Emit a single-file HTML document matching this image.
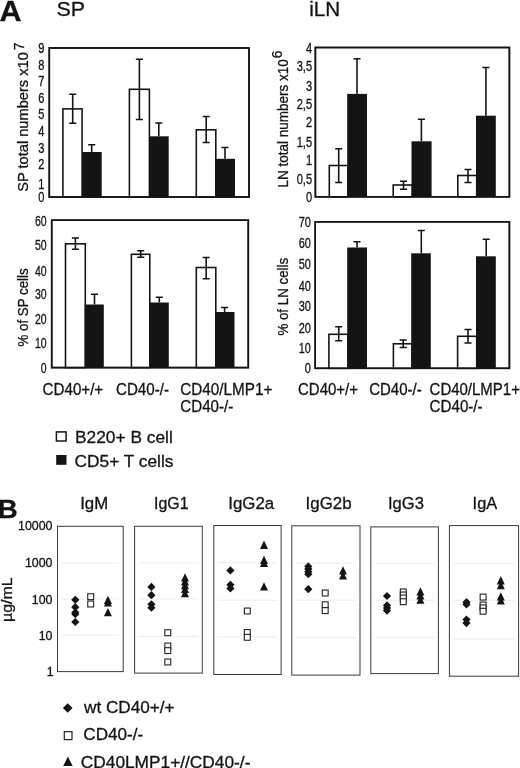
<!DOCTYPE html>
<html lang="en">
<head>
<meta charset="utf-8">
<title>Figure: SP and iLN cell numbers, immunoglobulin levels</title>
<style>
html,body{margin:0;padding:0;background:#fff;}
body{width:520px;height:768px;overflow:hidden;}
svg{display:block;will-change:transform;font-family:"Liberation Sans",Arial,Helvetica,sans-serif;}
text{stroke:#141414;stroke-width:0.3px;}
</style>
</head>
<body>
<svg width="520" height="768" viewBox="0 0 520 768">
<rect x="0" y="0" width="520" height="768" fill="#ffffff"/>
<text x="-0.4" y="20.8" font-size="29.6" text-anchor="start" fill="#141414" font-weight="bold" textLength="22" lengthAdjust="spacingAndGlyphs" >A</text>
<text x="56.4" y="15.7" font-size="21" text-anchor="start" fill="#141414" textLength="28.6" lengthAdjust="spacingAndGlyphs" >SP</text>
<text x="309.2" y="15.7" font-size="21" text-anchor="start" fill="#141414" textLength="31" lengthAdjust="spacingAndGlyphs" >iLN</text>
<text x="-2.2" y="517.6" font-size="26.6" text-anchor="start" fill="#141414" font-weight="bold" textLength="20" lengthAdjust="spacingAndGlyphs" >B</text>
<rect x="49.3" y="48" width="199.7" height="149" fill="none" stroke="#141414" stroke-width="1.58"/>
<rect x="62.9" y="108.9" width="19.199999999999996" height="88.1" fill="#fff" stroke="#141414" stroke-width="1.58"/>
<path d="M72.7 94.3V123.2M69.15 94.3H76.25M69.15 123.2H76.25" stroke="#141414" stroke-width="1.6" fill="none"/>
<rect x="82.1" y="152" width="19.60000000000001" height="45" fill="#141414"/>
<path d="M91.7 144.7V152M88.15 144.7H95.25" stroke="#141414" stroke-width="1.6" fill="none"/>
<rect x="129.4" y="89.3" width="20.0" height="107.7" fill="#fff" stroke="#141414" stroke-width="1.58"/>
<path d="M139.4 59.3V119.5M135.85 59.3H142.95000000000002M135.85 119.5H142.95000000000002" stroke="#141414" stroke-width="1.6" fill="none"/>
<rect x="149.4" y="136.3" width="19.299999999999983" height="60.69999999999999" fill="#141414"/>
<path d="M158.8 123V136.3M155.25 123H162.35000000000002" stroke="#141414" stroke-width="1.6" fill="none"/>
<rect x="196.3" y="129.8" width="19.5" height="67.19999999999999" fill="#fff" stroke="#141414" stroke-width="1.58"/>
<path d="M206.2 116.5V142.5M202.64999999999998 116.5H209.75M202.64999999999998 142.5H209.75" stroke="#141414" stroke-width="1.6" fill="none"/>
<rect x="215.8" y="158.8" width="19.19999999999999" height="38.19999999999999" fill="#141414"/>
<path d="M225 147.5V158.8M221.45 147.5H228.55" stroke="#141414" stroke-width="1.6" fill="none"/>
<rect x="49.3" y="48" width="199.7" height="149" fill="none" stroke="#141414" stroke-width="1.58"/>
<text x="44.4" y="53.26" font-size="14.4" text-anchor="end" fill="#141414" textLength="6.16" lengthAdjust="spacingAndGlyphs" >9</text>
<text x="44.4" y="70.01" font-size="14.4" text-anchor="end" fill="#141414" textLength="6.16" lengthAdjust="spacingAndGlyphs" >8</text>
<text x="44.4" y="86.46" font-size="14.4" text-anchor="end" fill="#141414" textLength="6.16" lengthAdjust="spacingAndGlyphs" >7</text>
<text x="44.4" y="103.01" font-size="14.4" text-anchor="end" fill="#141414" textLength="6.16" lengthAdjust="spacingAndGlyphs" >6</text>
<text x="44.4" y="119.46" font-size="14.4" text-anchor="end" fill="#141414" textLength="6.16" lengthAdjust="spacingAndGlyphs" >5</text>
<text x="44.4" y="136.26" font-size="14.4" text-anchor="end" fill="#141414" textLength="6.16" lengthAdjust="spacingAndGlyphs" >4</text>
<text x="44.4" y="153.01" font-size="14.4" text-anchor="end" fill="#141414" textLength="6.16" lengthAdjust="spacingAndGlyphs" >3</text>
<text x="44.4" y="169.26" font-size="14.4" text-anchor="end" fill="#141414" textLength="6.16" lengthAdjust="spacingAndGlyphs" >2</text>
<text x="44.4" y="189.26" font-size="14.4" text-anchor="end" fill="#141414" textLength="6.16" lengthAdjust="spacingAndGlyphs" >1</text>
<text x="44.4" y="201.86" font-size="14.4" text-anchor="end" fill="#141414" textLength="6.16" lengthAdjust="spacingAndGlyphs" >0</text>
<text x="28.5" y="191.8" font-size="14.4" text-anchor="start" fill="#141414" textLength="139.6" lengthAdjust="spacingAndGlyphs" transform="rotate(-90 28.5 191.8)" >SP total numbers x10</text>
<text x="24.1" y="50.2" font-size="13.8" text-anchor="start" fill="#141414" transform="rotate(-90 24.1 50.2)" >7</text>
<rect x="315.4" y="47.5" width="194.0" height="149.3" fill="none" stroke="#141414" stroke-width="1.58"/>
<rect x="329.3" y="165.5" width="18.69999999999999" height="31.30000000000001" fill="#fff" stroke="#141414" stroke-width="1.58"/>
<path d="M338.7 148.8V182.5M335.15 148.8H342.25M335.15 182.5H342.25" stroke="#141414" stroke-width="1.6" fill="none"/>
<rect x="347.2" y="93.9" width="19.80000000000001" height="102.9" fill="#141414"/>
<path d="M357 58.8V94M353.45 58.8H360.55" stroke="#141414" stroke-width="1.6" fill="none"/>
<rect x="393.2" y="185" width="19.100000000000023" height="11.800000000000011" fill="#fff" stroke="#141414" stroke-width="1.58"/>
<path d="M403.5 181.3V189.3M399.95 181.3H407.05M399.95 189.3H407.05" stroke="#141414" stroke-width="1.6" fill="none"/>
<rect x="411.5" y="141.3" width="20.100000000000023" height="55.5" fill="#141414"/>
<path d="M421.4 119.3V141.3M417.84999999999997 119.3H424.95" stroke="#141414" stroke-width="1.6" fill="none"/>
<rect x="457.8" y="175.5" width="18.899999999999977" height="21.30000000000001" fill="#fff" stroke="#141414" stroke-width="1.58"/>
<path d="M468 169.5V182.5M464.45 169.5H471.55M464.45 182.5H471.55" stroke="#141414" stroke-width="1.6" fill="none"/>
<rect x="476.0" y="115.7" width="19.80000000000001" height="81.10000000000001" fill="#141414"/>
<path d="M485.9 67.5V115.7M482.34999999999997 67.5H489.45" stroke="#141414" stroke-width="1.6" fill="none"/>
<rect x="315.4" y="47.5" width="194.0" height="149.3" fill="none" stroke="#141414" stroke-width="1.58"/>
<text x="312.1" y="53.06" font-size="14.4" text-anchor="end" fill="#141414" textLength="6.16" lengthAdjust="spacingAndGlyphs" >4</text>
<text x="312.1" y="70.56" font-size="14.4" text-anchor="end" fill="#141414" textLength="15.41" lengthAdjust="spacingAndGlyphs" >3,5</text>
<text x="312.1" y="91.46" font-size="14.4" text-anchor="end" fill="#141414" textLength="6.16" lengthAdjust="spacingAndGlyphs" >3</text>
<text x="312.1" y="109.06" font-size="14.4" text-anchor="end" fill="#141414" textLength="15.41" lengthAdjust="spacingAndGlyphs" >2,5</text>
<text x="312.1" y="127.26" font-size="14.4" text-anchor="end" fill="#141414" textLength="6.16" lengthAdjust="spacingAndGlyphs" >2</text>
<text x="312.1" y="146.56" font-size="14.4" text-anchor="end" fill="#141414" textLength="15.41" lengthAdjust="spacingAndGlyphs" >1,5</text>
<text x="312.1" y="165.46" font-size="14.4" text-anchor="end" fill="#141414" textLength="6.16" lengthAdjust="spacingAndGlyphs" >1</text>
<text x="312.1" y="184.26" font-size="14.4" text-anchor="end" fill="#141414" textLength="15.41" lengthAdjust="spacingAndGlyphs" >0,5</text>
<text x="312.1" y="202.46" font-size="14.4" text-anchor="end" fill="#141414" textLength="6.16" lengthAdjust="spacingAndGlyphs" >0</text>
<text x="288.1" y="187.6" font-size="14" text-anchor="start" fill="#141414" textLength="128.4" lengthAdjust="spacingAndGlyphs" transform="rotate(-90 288.1 187.6)" >LN total numbers x10</text>
<text x="282.3" y="58.2" font-size="13.8" text-anchor="start" fill="#141414" transform="rotate(-90 282.3 58.2)" >6</text>
<rect x="51.7" y="220.2" width="196.60000000000002" height="147.40000000000003" fill="none" stroke="#141414" stroke-width="1.58"/>
<rect x="65.5" y="243.8" width="19.799999999999997" height="123.80000000000001" fill="#fff" stroke="#141414" stroke-width="1.58"/>
<path d="M75.4 238V249.3M71.85000000000001 238H78.95M71.85000000000001 249.3H78.95" stroke="#141414" stroke-width="1.6" fill="none"/>
<rect x="84.7" y="304.5" width="19.099999999999994" height="63.10000000000002" fill="#141414"/>
<path d="M94.5 294.3V304.5M90.95 294.3H98.05" stroke="#141414" stroke-width="1.6" fill="none"/>
<rect x="131.4" y="254.3" width="18.400000000000006" height="113.30000000000001" fill="#fff" stroke="#141414" stroke-width="1.58"/>
<path d="M140.7 250.7V257.3M137.14999999999998 250.7H144.25M137.14999999999998 257.3H144.25" stroke="#141414" stroke-width="1.6" fill="none"/>
<rect x="149.8" y="302.5" width="19.0" height="65.10000000000002" fill="#141414"/>
<path d="M159.3 297.2V302.5M155.75 297.2H162.85000000000002" stroke="#141414" stroke-width="1.6" fill="none"/>
<rect x="196.3" y="267.5" width="19.5" height="100.10000000000002" fill="#fff" stroke="#141414" stroke-width="1.58"/>
<path d="M206.2 257.5V278.8M202.64999999999998 257.5H209.75M202.64999999999998 278.8H209.75" stroke="#141414" stroke-width="1.6" fill="none"/>
<rect x="215.8" y="312" width="18.69999999999999" height="55.60000000000002" fill="#141414"/>
<path d="M224.6 307.5V312M221.04999999999998 307.5H228.15" stroke="#141414" stroke-width="1.6" fill="none"/>
<rect x="51.7" y="220.2" width="196.60000000000002" height="147.40000000000003" fill="none" stroke="#141414" stroke-width="1.58"/>
<text x="46.6" y="226.26" font-size="14.4" text-anchor="end" fill="#141414" textLength="11.69" lengthAdjust="spacingAndGlyphs" >60</text>
<text x="46.6" y="249.86" font-size="14.4" text-anchor="end" fill="#141414" textLength="11.69" lengthAdjust="spacingAndGlyphs" >50</text>
<text x="46.6" y="276.26" font-size="14.4" text-anchor="end" fill="#141414" textLength="11.69" lengthAdjust="spacingAndGlyphs" >40</text>
<text x="46.6" y="299.46" font-size="14.4" text-anchor="end" fill="#141414" textLength="11.69" lengthAdjust="spacingAndGlyphs" >30</text>
<text x="46.6" y="323.66" font-size="14.4" text-anchor="end" fill="#141414" textLength="11.69" lengthAdjust="spacingAndGlyphs" >20</text>
<text x="46.6" y="348.06" font-size="14.4" text-anchor="end" fill="#141414" textLength="11.69" lengthAdjust="spacingAndGlyphs" >10</text>
<text x="46.6" y="372.66" font-size="14.4" text-anchor="end" fill="#141414" textLength="5.84" lengthAdjust="spacingAndGlyphs" >0</text>
<text x="28.3" y="346.5" font-size="14.6" text-anchor="start" fill="#141414" textLength="78.2" lengthAdjust="spacingAndGlyphs" transform="rotate(-90 28.3 346.5)" >% of SP cells</text>
<rect x="315.2" y="221.8" width="194.2" height="146.5" fill="none" stroke="#141414" stroke-width="1.58"/>
<rect x="328.9" y="334.3" width="19.100000000000023" height="34.0" fill="#fff" stroke="#141414" stroke-width="1.58"/>
<path d="M338.7 326.8V340.8M335.15 326.8H342.25M335.15 340.8H342.25" stroke="#141414" stroke-width="1.6" fill="none"/>
<rect x="347.2" y="247.5" width="19.80000000000001" height="120.80000000000001" fill="#141414"/>
<path d="M357 241.8V247.5M353.45 241.8H360.55" stroke="#141414" stroke-width="1.6" fill="none"/>
<rect x="393.4" y="343.8" width="18.600000000000023" height="24.5" fill="#fff" stroke="#141414" stroke-width="1.58"/>
<path d="M403.2 340V347.5M399.65 340H406.75M399.65 347.5H406.75" stroke="#141414" stroke-width="1.6" fill="none"/>
<rect x="411.2" y="253.3" width="19.600000000000023" height="115.0" fill="#141414"/>
<path d="M421.3 230.5V253.3M417.75 230.5H424.85" stroke="#141414" stroke-width="1.6" fill="none"/>
<rect x="457.6" y="336.3" width="19.099999999999966" height="32.0" fill="#fff" stroke="#141414" stroke-width="1.58"/>
<path d="M468 329.5V343M464.45 329.5H471.55M464.45 343H471.55" stroke="#141414" stroke-width="1.6" fill="none"/>
<rect x="476.0" y="256.3" width="19.80000000000001" height="112.0" fill="#141414"/>
<path d="M486.2 239.3V256.3M482.65 239.3H489.75" stroke="#141414" stroke-width="1.6" fill="none"/>
<rect x="315.2" y="221.8" width="194.2" height="146.5" fill="none" stroke="#141414" stroke-width="1.58"/>
<text x="310.8" y="227.06" font-size="14.4" text-anchor="end" fill="#141414" textLength="12.17" lengthAdjust="spacingAndGlyphs" >70</text>
<text x="310.8" y="247.86" font-size="14.4" text-anchor="end" fill="#141414" textLength="12.17" lengthAdjust="spacingAndGlyphs" >60</text>
<text x="310.8" y="268.66" font-size="14.4" text-anchor="end" fill="#141414" textLength="12.17" lengthAdjust="spacingAndGlyphs" >50</text>
<text x="310.8" y="290.86" font-size="14.4" text-anchor="end" fill="#141414" textLength="12.17" lengthAdjust="spacingAndGlyphs" >40</text>
<text x="310.8" y="311.46" font-size="14.4" text-anchor="end" fill="#141414" textLength="12.17" lengthAdjust="spacingAndGlyphs" >30</text>
<text x="310.8" y="333.06" font-size="14.4" text-anchor="end" fill="#141414" textLength="12.17" lengthAdjust="spacingAndGlyphs" >20</text>
<text x="310.8" y="353.26" font-size="14.4" text-anchor="end" fill="#141414" textLength="12.17" lengthAdjust="spacingAndGlyphs" >10</text>
<text x="310.8" y="373.06" font-size="14.4" text-anchor="end" fill="#141414" textLength="6.08" lengthAdjust="spacingAndGlyphs" >0</text>
<text x="288.3" y="335.6" font-size="14.2" text-anchor="start" fill="#141414" textLength="77.8" lengthAdjust="spacingAndGlyphs" transform="rotate(-90 288.3 335.6)" >% of LN cells</text>
<text x="42.6" y="394.6" font-size="16" text-anchor="start" fill="#141414" textLength="60.6" lengthAdjust="spacingAndGlyphs" >CD40+/+</text>
<text x="116" y="394.6" font-size="16" text-anchor="start" fill="#141414" textLength="53" lengthAdjust="spacingAndGlyphs" >CD40-/-</text>
<text x="180.3" y="394.6" font-size="16" text-anchor="start" fill="#141414" textLength="92" lengthAdjust="spacingAndGlyphs" >CD40/LMP1+</text>
<text x="180.3" y="412.2" font-size="16" text-anchor="start" fill="#141414" textLength="53" lengthAdjust="spacingAndGlyphs" >CD40-/-</text>
<text x="298" y="394.6" font-size="16" text-anchor="start" fill="#141414" textLength="60" lengthAdjust="spacingAndGlyphs" >CD40+/+</text>
<text x="369.2" y="394.6" font-size="16" text-anchor="start" fill="#141414" textLength="52.5" lengthAdjust="spacingAndGlyphs" >CD40-/-</text>
<text x="429.6" y="394.6" font-size="16" text-anchor="start" fill="#141414" textLength="90.3" lengthAdjust="spacingAndGlyphs" >CD40/LMP1+</text>
<text x="429.6" y="412.2" font-size="16" text-anchor="start" fill="#141414" textLength="53" lengthAdjust="spacingAndGlyphs" >CD40-/-</text>
<rect x="56.4" y="431.9" width="9.7" height="9.1" fill="#fff" stroke="#141414" stroke-width="1.5"/>
<rect x="56.2" y="455" width="10.3" height="9.8" fill="#141414"/>
<text x="75" y="443.4" font-size="17.3" text-anchor="start" fill="#141414" textLength="97.8" lengthAdjust="spacingAndGlyphs" >B220+ B cell</text>
<text x="74.6" y="466.6" font-size="17.3" text-anchor="start" fill="#141414" textLength="98.8" lengthAdjust="spacingAndGlyphs" >CD5+ T cells</text>
<path d="M61.5 563H119.2" stroke="#ebebeb" stroke-width="1"/>
<path d="M61.5 598.9H119.2" stroke="#ebebeb" stroke-width="1"/>
<path d="M61.5 635.2H119.2" stroke="#ebebeb" stroke-width="1"/>
<rect x="57.5" y="526.3" width="65.7" height="145.30000000000007" fill="none" stroke="#3a3a3a" stroke-width="1.0"/>
<path d="M138.6 562.8H198.3" stroke="#ebebeb" stroke-width="1"/>
<path d="M138.6 599H198.3" stroke="#ebebeb" stroke-width="1"/>
<path d="M138.6 636.4H198.3" stroke="#ebebeb" stroke-width="1"/>
<rect x="134.6" y="526.3" width="67.70000000000002" height="146.80000000000007" fill="none" stroke="#3a3a3a" stroke-width="1.0"/>
<path d="M217.8 562.7H277.1" stroke="#ebebeb" stroke-width="1"/>
<path d="M217.8 600.2H277.1" stroke="#ebebeb" stroke-width="1"/>
<path d="M217.8 637H277.1" stroke="#ebebeb" stroke-width="1"/>
<rect x="213.8" y="525.5" width="67.30000000000001" height="149.0" fill="none" stroke="#3a3a3a" stroke-width="1.0"/>
<path d="M295.8 563H356" stroke="#ebebeb" stroke-width="1"/>
<path d="M295.8 600.2H356" stroke="#ebebeb" stroke-width="1"/>
<path d="M295.8 637.7H356" stroke="#ebebeb" stroke-width="1"/>
<rect x="291.8" y="525.8" width="68.19999999999999" height="149.30000000000007" fill="none" stroke="#3a3a3a" stroke-width="1.0"/>
<path d="M374.8 563.7H434.4" stroke="#ebebeb" stroke-width="1"/>
<path d="M374.8 600.2H434.4" stroke="#ebebeb" stroke-width="1"/>
<path d="M374.8 637.7H434.4" stroke="#ebebeb" stroke-width="1"/>
<rect x="370.8" y="526.9" width="67.59999999999997" height="146.70000000000005" fill="none" stroke="#3a3a3a" stroke-width="1.0"/>
<path d="M453.4 563.7H514.6" stroke="#ebebeb" stroke-width="1"/>
<path d="M453.4 600.2H514.6" stroke="#ebebeb" stroke-width="1"/>
<path d="M453.4 639.2H514.6" stroke="#ebebeb" stroke-width="1"/>
<rect x="449.4" y="525.6" width="69.20000000000005" height="150.60000000000002" fill="none" stroke="#3a3a3a" stroke-width="1.0"/>
<text x="52.5" y="530.04" font-size="12.4" text-anchor="end" fill="#141414" >10000</text>
<text x="52.5" y="567.44" font-size="12.4" text-anchor="end" fill="#141414" >1000</text>
<text x="52.5" y="603.84" font-size="12.4" text-anchor="end" fill="#141414" >100</text>
<text x="52.5" y="640.14" font-size="12.4" text-anchor="end" fill="#141414" >10</text>
<text x="53.6" y="675.64" font-size="12.4" text-anchor="end" fill="#141414" >1</text>
<text x="12.1" y="622" font-size="14.6" text-anchor="start" fill="#141414" textLength="44.6" lengthAdjust="spacingAndGlyphs" transform="rotate(-90 12.1 622)" >µg/mL</text>
<text x="80.2" y="509.0" font-size="17" text-anchor="start" fill="#141414" textLength="28" lengthAdjust="spacingAndGlyphs" >IgM</text>
<text x="154" y="509.0" font-size="17" text-anchor="start" fill="#141414" textLength="34.5" lengthAdjust="spacingAndGlyphs" >IgG1</text>
<text x="228.2" y="509.0" font-size="17" text-anchor="start" fill="#141414" textLength="46" lengthAdjust="spacingAndGlyphs" >IgG2a</text>
<text x="305.6" y="509.0" font-size="17" text-anchor="start" fill="#141414" textLength="46" lengthAdjust="spacingAndGlyphs" >IgG2b</text>
<text x="388" y="509.0" font-size="17" text-anchor="start" fill="#141414" textLength="36" lengthAdjust="spacingAndGlyphs" >IgG3</text>
<text x="472.6" y="509.0" font-size="17" text-anchor="start" fill="#141414" textLength="24.6" lengthAdjust="spacingAndGlyphs" >IgA</text>
<path d="M75.3 595.6999999999999L79.39999999999999 599.8L75.3 603.9L71.2 599.8Z" fill="#141414"/>
<path d="M75.3 603.1L79.39999999999999 607.2L75.3 611.3000000000001L71.2 607.2Z" fill="#141414"/>
<path d="M75.3 608.3L79.39999999999999 612.4L75.3 616.5L71.2 612.4Z" fill="#141414"/>
<path d="M75.3 610.1L79.39999999999999 614.2L75.3 618.3000000000001L71.2 614.2Z" fill="#141414"/>
<path d="M75.3 617.9L79.39999999999999 622L75.3 626.1L71.2 622Z" fill="#141414"/>
<rect x="87.75" y="593.75" width="5.9" height="5.9" fill="#fff" stroke="#222" stroke-width="1.1"/>
<rect x="87.75" y="601.05" width="5.9" height="5.9" fill="#fff" stroke="#222" stroke-width="1.1"/>
<path d="M107.9 595.7L111.9 604.0L103.9 604.0Z" fill="#141414"/>
<path d="M107.9 598.1L111.9 606.4L103.9 606.4Z" fill="#141414"/>
<path d="M107.9 608.0L111.9 616.3L103.9 616.3Z" fill="#141414"/>
<path d="M151.4 582.8L155.5 586.9L151.4 591.0L147.3 586.9Z" fill="#141414"/>
<path d="M151.4 591.1L155.5 595.2L151.4 599.3000000000001L147.3 595.2Z" fill="#141414"/>
<path d="M151.4 600.1999999999999L155.5 604.3L151.4 608.4L147.3 604.3Z" fill="#141414"/>
<path d="M151.4 603.6L155.5 607.7L151.4 611.8000000000001L147.3 607.7Z" fill="#141414"/>
<rect x="164.85" y="629.75" width="5.9" height="5.9" fill="#fff" stroke="#222" stroke-width="1.1"/>
<rect x="164.85" y="643.05" width="5.9" height="5.9" fill="#fff" stroke="#222" stroke-width="1.1"/>
<rect x="164.85" y="647.65" width="5.9" height="5.9" fill="#fff" stroke="#222" stroke-width="1.1"/>
<rect x="164.85" y="659.05" width="5.9" height="5.9" fill="#fff" stroke="#222" stroke-width="1.1"/>
<path d="M185 573.3L189.0 581.6L181.0 581.6Z" fill="#141414"/>
<path d="M185 577.1L189.0 585.4L181.0 585.4Z" fill="#141414"/>
<path d="M185 580.9L189.0 589.2L181.0 589.2Z" fill="#141414"/>
<path d="M185 584.7L189.0 593.0L181.0 593.0Z" fill="#141414"/>
<path d="M185 588.9L189.0 597.2L181.0 597.2Z" fill="#141414"/>
<path d="M230.4 566.3L234.5 570.4L230.4 574.5L226.3 570.4Z" fill="#141414"/>
<path d="M230.4 580.6999999999999L234.5 584.8L230.4 588.9L226.3 584.8Z" fill="#141414"/>
<path d="M230.4 584.3L234.5 588.4L230.4 592.5L226.3 588.4Z" fill="#141414"/>
<rect x="244.35" y="608.05" width="5.9" height="5.9" fill="#fff" stroke="#222" stroke-width="1.1"/>
<rect x="244.35" y="629.55" width="5.9" height="5.9" fill="#fff" stroke="#222" stroke-width="1.1"/>
<rect x="244.35" y="634.35" width="5.9" height="5.9" fill="#fff" stroke="#222" stroke-width="1.1"/>
<path d="M264 540.6L268.0 548.9L260.0 548.9Z" fill="#141414"/>
<path d="M264 555.7L268.0 564.0L260.0 564.0Z" fill="#141414"/>
<path d="M264 558.7L268.0 567.0L260.0 567.0Z" fill="#141414"/>
<path d="M264 582.3L268.0 590.6L260.0 590.6Z" fill="#141414"/>
<path d="M308.3 562.3L312.40000000000003 566.4L308.3 570.5L304.2 566.4Z" fill="#141414"/>
<path d="M308.3 564.9L312.40000000000003 569L308.3 573.1L304.2 569Z" fill="#141414"/>
<path d="M308.3 567.6L312.40000000000003 571.7L308.3 575.8000000000001L304.2 571.7Z" fill="#141414"/>
<path d="M308.3 570.1L312.40000000000003 574.2L308.3 578.3000000000001L304.2 574.2Z" fill="#141414"/>
<path d="M308.3 585.1L312.40000000000003 589.2L308.3 593.3000000000001L304.2 589.2Z" fill="#141414"/>
<rect x="322.25" y="590.05" width="5.9" height="5.9" fill="#fff" stroke="#222" stroke-width="1.1"/>
<rect x="322.25" y="601.85" width="5.9" height="5.9" fill="#fff" stroke="#222" stroke-width="1.1"/>
<rect x="322.25" y="607.65" width="5.9" height="5.9" fill="#fff" stroke="#222" stroke-width="1.1"/>
<path d="M343 566.3L347.0 574.6L339.0 574.6Z" fill="#141414"/>
<path d="M343 571.1L347.0 579.4L339.0 579.4Z" fill="#141414"/>
<path d="M387 591.9L391.1 596L387 600.1L382.9 596Z" fill="#141414"/>
<path d="M387 601.3L391.1 605.4L387 609.5L382.9 605.4Z" fill="#141414"/>
<path d="M387 603.9L391.1 608L387 612.1L382.9 608Z" fill="#141414"/>
<path d="M387 606.5L391.1 610.6L387 614.7L382.9 610.6Z" fill="#141414"/>
<rect x="400.35" y="588.95" width="5.9" height="5.9" fill="#fff" stroke="#222" stroke-width="1.1"/>
<rect x="400.35" y="592.05" width="5.9" height="5.9" fill="#fff" stroke="#222" stroke-width="1.1"/>
<rect x="400.35" y="595.05" width="5.9" height="5.9" fill="#fff" stroke="#222" stroke-width="1.1"/>
<rect x="400.35" y="598.75" width="5.9" height="5.9" fill="#fff" stroke="#222" stroke-width="1.1"/>
<path d="M420.4 587.3L424.4 595.6L416.4 595.6Z" fill="#141414"/>
<path d="M420.4 591.3L424.4 599.6L416.4 599.6Z" fill="#141414"/>
<path d="M420.4 595.5L424.4 603.8L416.4 603.8Z" fill="#141414"/>
<path d="M466.5 598.1L470.6 602.2L466.5 606.3000000000001L462.4 602.2Z" fill="#141414"/>
<path d="M466.5 600.3L470.6 604.4L466.5 608.5L462.4 604.4Z" fill="#141414"/>
<path d="M466.5 615.5L470.6 619.6L466.5 623.7L462.4 619.6Z" fill="#141414"/>
<path d="M466.5 619.0L470.6 623.1L466.5 627.2L462.4 623.1Z" fill="#141414"/>
<rect x="480.15" y="594.15" width="5.9" height="5.9" fill="#fff" stroke="#222" stroke-width="1.1"/>
<rect x="480.15" y="602.05" width="5.9" height="5.9" fill="#fff" stroke="#222" stroke-width="1.1"/>
<rect x="480.15" y="604.95" width="5.9" height="5.9" fill="#fff" stroke="#222" stroke-width="1.1"/>
<rect x="480.15" y="608.3" width="5.9" height="5.9" fill="#fff" stroke="#222" stroke-width="1.1"/>
<path d="M500.8 576.1L504.8 584.4L496.8 584.4Z" fill="#141414"/>
<path d="M500.8 580.9L504.8 589.2L496.8 589.2Z" fill="#141414"/>
<path d="M500.8 592.3L504.8 600.6L496.8 600.6Z" fill="#141414"/>
<path d="M500.8 596.1L504.8 604.4L496.8 604.4Z" fill="#141414"/>
<path d="M67.7 703.2L72.5 708L67.7 712.8L62.900000000000006 708Z" fill="#141414"/>
<rect x="64.3" y="731.7" width="7.7" height="7.9" fill="#fff" stroke="#222" stroke-width="1.2"/>
<path d="M67.9 756.4L72.60000000000001 766.0L63.2 766.0Z" fill="#141414"/>
<text x="84" y="712.6" font-size="17.1" text-anchor="start" fill="#141414" textLength="90.6" lengthAdjust="spacingAndGlyphs" >wt CD40+/+</text>
<text x="83.3" y="740.2" font-size="17.1" text-anchor="start" fill="#141414" textLength="60" lengthAdjust="spacingAndGlyphs" >CD40-/-</text>
<text x="80.8" y="767.8" font-size="17.1" text-anchor="start" fill="#141414" textLength="169.6" lengthAdjust="spacingAndGlyphs" >CD40LMP1+//CD40-/-</text>
</svg>
</body>
</html>
